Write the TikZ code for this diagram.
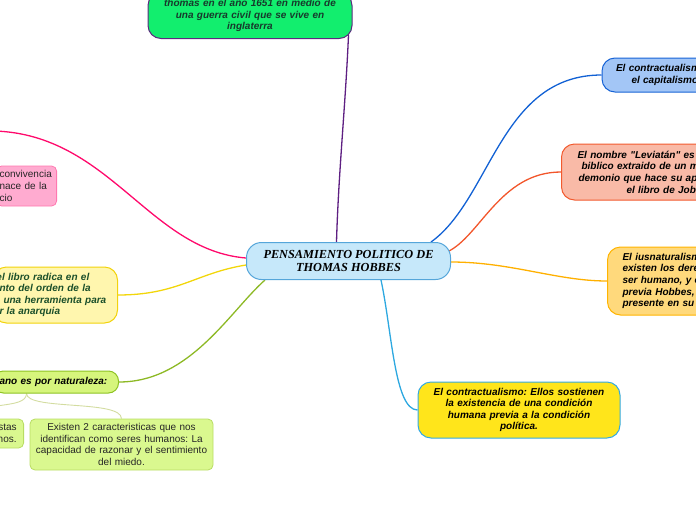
\documentclass[tikz,border=0pt]{standalone}
\usepackage{fontspec}
\setmainfont{Liberation Sans}[Ligatures=TeXOff]
\newfontfamily\serifbi{Liberation Serif}
\usetikzlibrary{backgrounds}
\frenchspacing

\definecolor{fCentral}{HTML}{C6E8FA}
\definecolor{bCentral}{HTML}{55A6DA}
\definecolor{fVerde}{HTML}{12EE6E}
\definecolor{bMorado}{HTML}{5C2A80}
\definecolor{tVerde}{HTML}{173A2C}
\definecolor{cMorado}{HTML}{5E1F82}
\definecolor{fAzul}{HTML}{A3C6F6}
\definecolor{bAzul}{HTML}{1763D6}
\definecolor{cAzul}{HTML}{1261D4}
\definecolor{fSalmon}{HTML}{F9BAA7}
\definecolor{bSalmon}{HTML}{F25A2E}
\definecolor{cSalmon}{HTML}{F2562B}
\definecolor{fNaranja}{HTML}{FFD97C}
\definecolor{bNaranja}{HTML}{FFB400}
\definecolor{cNaranja}{HTML}{FFB000}
\definecolor{fAmarillo}{HTML}{FFE51B}
\definecolor{bCeleste}{HTML}{33AAE2}
\definecolor{cCeleste}{HTML}{2DA8E0}
\definecolor{fRosa}{HTML}{FFABD0}
\definecolor{bRosa}{HTML}{FF78B0}
\definecolor{cRosa}{HTML}{FF0A6C}
\definecolor{fCrema}{HTML}{FFF6AE}
\definecolor{bCrema}{HTML}{F2D30C}
\definecolor{cCrema}{HTML}{F2D60A}
\definecolor{tOliva}{HTML}{1B4F2A}
\definecolor{fLima}{HTML}{D6F57C}
\definecolor{bLima}{HTML}{8EC324}
\definecolor{cLima}{HTML}{8DB925}
\definecolor{fHijo}{HTML}{DAF88F}
\definecolor{bHijo}{HTML}{B8DC63}
\definecolor{cHijo}{HTML}{D3DCA0}
\definecolor{tGris}{HTML}{262626}

\tikzset{
  caja/.style={rounded corners=13pt, line width=1pt, inner ysep=0pt,
    font=\fontsize{10}{11.6}\selectfont\bfseries\itshape},
  hoja/.style={rounded corners=5pt, line width=0.8pt, inner ysep=0pt, text=tGris,
    font=\fontsize{10}{11.7}\selectfont},
  rama/.style={line width=1.3pt},
}

\begin{document}
\begin{tikzpicture}[x=1pt, y=-1pt, line cap=round, line join=round]

  %% ════ 中心节点 ════
  \node[caja, fill=fCentral, draw=bCentral, align=center, minimum width=204pt, minimum height=37pt,
        rounded corners=15pt, font=\fontsize{12.3}{12.5}\selectfont\serifbi\bfseries\itshape]
        (central) at (348.5,261) {PENSAMIENTO POLITICO DE\\THOMAS HOBBES};

  %% ════ 上方 / 右侧 ════
  \node[caja, fill=fVerde, draw=bMorado, text=tVerde, align=center, text width=196pt, inner xsep=4pt,
        minimum height=46pt] (guerra) at (250,15.5)
        {thomas en el año 1651 en medio de\\una guerra civil que se vive en\\inglaterra};
  \node[caja, fill=fAzul, draw=bAzul, anchor=west, align=left, text width=150pt, inner xsep=14pt,
        minimum height=34pt] (capital) at (601.5,75)
        {El contractualism\\\hspace*{15.5pt}el capitalismo};
  \node[caja, fill=fSalmon, draw=bSalmon, anchor=west, align=left, text width=160pt, inner xsep=16pt,
        minimum height=56pt] (leviatan) at (561,172)
        {El nombre "Leviatán" es\\\hspace*{4pt}biblico extraido de un m\\\hspace*{1pt}demonio que hace su ap\\\hspace*{49pt}el libro de Job.};
  \node[caja, fill=fNaranja, draw=bNaranja, anchor=west, align=left, text width=150pt, inner xsep=15pt,
        minimum height=68pt] (iusnat) at (607,281)
        {El iusnaturalism\\existen los dere\\ser humano, y e\\previa Hobbes,\\presente en su};
  \node[caja, fill=fAmarillo, draw=bCeleste, align=center, text width=192pt, inner xsep=5pt,
        minimum height=56pt] (contrato) at (519,410)
        {El contractualismo: Ellos sostienen\\la existencia de una condición\\humana previa a la condición\\política.};

  %% ════ 左侧（被裁切）════
  \node[hoja, fill=fRosa, draw=bRosa, anchor=east, align=left, text width=54pt, inner xsep=3pt,
        minimum height=40pt] (convive) at (57,186) {convivencia\\nace de la\\cio};
  \node[caja, fill=fCrema, draw=bCrema, text=tOliva, anchor=east, align=left, text width=112pt,
        inner xsep=6pt, minimum height=56pt] (libro) at (118,295)
        {\hspace*{-3pt}el libro radica en el\\nto del orden de la\\\hspace*{4pt}una herramienta para\\r la anarquia};
  \node[caja, fill=fLima, draw=bLima, anchor=east, align=left, text width=113pt, inner xsep=6pt,
        minimum height=22pt, rounded corners=10pt] (natur) at (119,382) {ano es por naturaleza:};
  \node[hoja, fill=fHijo, draw=bHijo, anchor=east, align=right, text width=80pt, inner xsep=7pt,
        minimum height=29pt] (hijoA) at (24,433.5) {stas\hspace*{2pt}\\nos.};
  \node[hoja, fill=fHijo, draw=bHijo, align=center, text width=175pt, inner xsep=4pt,
        minimum height=51pt] (hijoB) at (121.5,444.5)
        {Existen 2 caracteristicas que nos\\identifican como seres humanos: La\\capacidad de razonar y el sentimiento\\del miedo.};

  \coordinate (rosaFin) at (-5,131);

  %% ════ 连线（放在背景层）════
  \begin{scope}[on background layer]
    \draw[rama, draw=cMorado] ([xshift=-4pt,yshift=4pt]guerra.south east) .. controls +(-3,70) and +(2,-70) .. ([xshift=-12pt]central.north);
    \draw[rama, draw=cAzul] ([xshift=-20pt]central.north east) .. controls +(60,-43) and +(-101,0) .. (capital.west);
    \draw[rama, draw=cSalmon] ([xshift=-4pt,yshift=9pt]central.east) .. controls +(33,-15) and +(-61,0) .. (leviatan.west);
    \draw[rama, draw=cNaranja] ([yshift=-1pt]central.east) .. controls +(60,0) and +(-50,0) .. (iusnat.west);
    \draw[rama, draw=cCeleste] ([xshift=32.5pt]central.south) .. controls +(11,51) and +(-23,0) .. (contrato.west);
    \draw[rama, draw=cRosa] (rosaFin) .. controls +(115,4) and +(-97,-8) .. ([yshift=3pt]central.west);
    \draw[rama, draw=cCrema] (libro.east) .. controls +(60,0) and +(-50,8) .. ([yshift=-4pt]central.west);
    \draw[rama, draw=cLima] (natur.east) .. controls +(71,0) and +(-35,31) .. ([xshift=-83.5pt]central.south);
    \draw[line width=0.9pt, draw=cHijo] ([xshift=-29.5pt]natur.south) .. controls +(0,17) and +(0,-19) .. (hijoB.north);
    \draw[line width=0.9pt, draw=cHijo] ([xshift=-29.5pt]natur.south) .. controls +(0,17) and +(0,-19) .. (hijoA.north);
  \end{scope}

  % 固定画布
  \pgfresetboundingbox
  \path[use as bounding box] (0,0) rectangle (696,520);
\end{tikzpicture}
\end{document}
